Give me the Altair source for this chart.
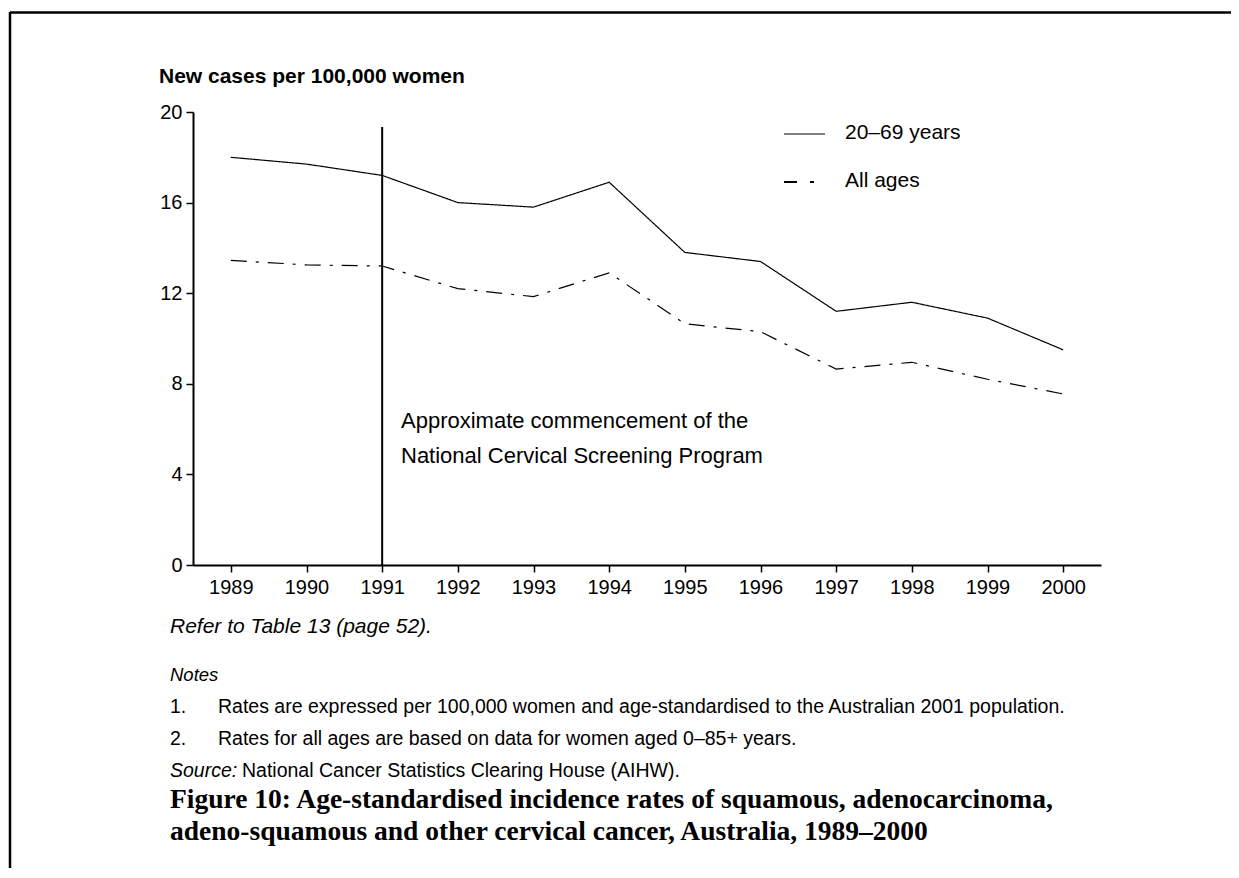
import altair as alt
import pandas as pd

# ---- data ----
years = list(range(1989, 2001))
rate_20_69 = [18.0, 17.7, 17.2, 16.0, 15.8, 16.9, 13.8, 13.4, 11.2, 11.6, 10.9, 9.5]
rate_all_ages = [13.45, 13.25, 13.2, 12.2, 11.85, 12.9, 10.65, 10.3, 8.65, 8.95, 8.2, 7.55]
series_names = ["20–69 years", "All ages"]
y_ticks = [0, 4, 8, 12, 16, 20]
screening_year = 1991

y_title = "New cases per 100,000 women"
annotation_lines = ["Approximate commencement  of the", "National Cervical Screening Program"]
refer_text = "Refer to Table 13 (page 52)."
notes_title = "Notes"
note_numbers = ["1.", "2."]
note_texts = [
    "Rates are expressed per 100,000 women and age-standardised to the Australian 2001 population.",
    "Rates for all ages are based on data for women aged 0–85+ years.",
]
source_label = "Source:"
source_text = "National Cancer Statistics Clearing House (AIHW)."
caption_lines = [
    "Figure 10: Age-standardised incidence rates of squamous, adenocarcinoma,",
    "adeno-squamous and other cervical cancer, Australia, 1989–2000",
]

# ---- layout ----
W, H = 908, 453
OX, OY = 193, 112          # page position of plot origin
PL, PT = OX - 8, OY - 8
TOTAL_W, TOTAL_H = 1223, 860
FONT = "Liberation Sans"

df = pd.DataFrame({
    "year": years * 2,
    "rate": rate_20_69 + rate_all_ages,
    "series": [series_names[0]] * len(years) + [series_names[1]] * len(years),
})

x_scale = alt.Scale(domain=[1988.5, 2000.5], nice=False, zero=False)
y_scale = alt.Scale(domain=[0, 20], nice=False)
DASH = [16, 9, 3, 9]

lines = alt.Chart(df).mark_line(color="black", strokeWidth=1.2).encode(
    x=alt.X("year:Q", scale=x_scale,
            axis=alt.Axis(values=years, format="d", title=None, labelPadding=5)),
    y=alt.Y("rate:Q", scale=y_scale,
            axis=alt.Axis(values=y_ticks, title=None, labelPadding=4)),
    strokeDash=alt.StrokeDash("series:N",
                              scale=alt.Scale(domain=series_names, range=[[1, 0], DASH]),
                              legend=None),
)

one = alt.Data(values=[{}])


def px(x):
    return x - OX


def py(y):
    return y - OY


vline = alt.Chart(one).mark_rule(color="black", strokeWidth=2).encode(
    x=alt.X("v:Q", scale=x_scale),
    y=alt.value(py(127)), y2=alt.value(H),
).transform_calculate(v=str(screening_year))


def text(label, x, y, size, weight="normal", style="normal", font=FONT):
    return alt.Chart(one).mark_text(
        text=label, align="left", baseline="middle", fontSize=size,
        fontWeight=weight, fontStyle=style, font=font, color="black",
    ).encode(x=alt.value(px(x)), y=alt.value(py(y)))


def rule(x1, x2, y1, y2, width=1.2, dash=None):
    kw = dict(color="black", strokeWidth=width)
    if dash:
        kw["strokeDash"] = dash
    return alt.Chart(one).mark_rule(**kw).encode(
        x=alt.value(px(x1)), x2=alt.value(px(x2)),
        y=alt.value(py(y1)), y2=alt.value(py(y2)),
    )


NOTE_SIZE = 19.5
layers = [lines, vline]
# legend
layers.append(rule(784, 825, 134, 134))
layers.append(text(series_names[0], 845, 133, 21))
layers.append(rule(784, 816, 182, 182, width=2, dash=[13, 13, 4, 10]))
layers.append(text(series_names[1], 845, 181, 21))
# titles / annotations
layers.append(text(y_title, 159, 77, 21, weight="bold"))
layers.append(text(annotation_lines[0], 401, 421, 22))
layers.append(text(annotation_lines[1], 401, 456, 22))
# notes
layers.append(text(refer_text, 170, 627, 21, style="italic"))
layers.append(text(notes_title, 170, 675, 18.5, style="italic"))
for i, (n, t) in enumerate(zip(note_numbers, note_texts)):
    yy = 707 + 32 * i
    layers.append(text(n, 170, yy, NOTE_SIZE))
    layers.append(text(t, 218, yy, NOTE_SIZE))
layers.append(text(source_label, 170, 771, NOTE_SIZE, style="italic"))
layers.append(text(source_text, 242, 771, NOTE_SIZE))
layers.append(text(caption_lines[0], 170, 800, 27.5, weight="bold", font="Liberation Serif"))
layers.append(text(caption_lines[1], 170, 832, 27.5, weight="bold", font="Liberation Serif"))
# page border
layers.append(rule(10, 1240, 12.5, 12.5, width=2.5))
layers.append(rule(10, 10, 12, 880, width=2.5))

chart = alt.layer(*layers).properties(
    width=W, height=H,
    padding={"left": PL, "top": PT, "right": TOTAL_W - PL - W, "bottom": TOTAL_H - PT - H},
    autosize=alt.AutoSizeParams(type="none"),
).configure_view(stroke=None).configure_axis(
    grid=False, domainColor="black", domainWidth=2, tickColor="black", tickWidth=1.5,
    tickSize=7, labelFont=FONT, labelFontSize=20, labelColor="black",
)

chart.save("out.html", embed_options={"renderer": "svg", "actions": False})
